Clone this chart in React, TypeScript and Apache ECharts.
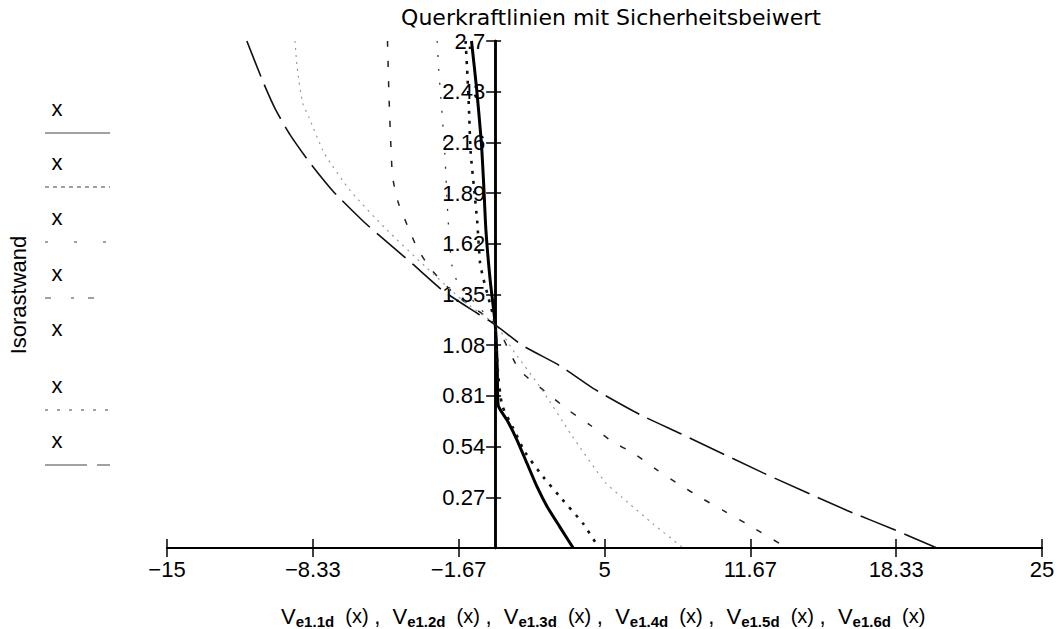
import React, { useEffect, useRef } from 'react';
import * as echarts from 'echarts';

const chartTitle = 'Querkraftlinien mit Sicherheitsbeiwert';
const yAxisTitle = 'Isorastwand';
const xTickLabels = ['\u221215', '\u22128.33', '\u22121.67', '5', '11.67', '18.33', '25'];
const yTickLabels = ['0.27', '0.54', '0.81', '1.08', '1.35', '1.62', '1.89', '2.16', '2.43', '2.7'];
const funcSubs = ['e1.1d', 'e1.2d', 'e1.3d', 'e1.4d', 'e1.5d', 'e1.6d'];
const legendLabels = ['x', 'x', 'x', 'x', 'x', 'x', 'x'];

// [V, x] pairs
const curveSolid: [number, number][] = [
  [-1.08, 2.7], [-0.85, 2.45], [-0.63, 2.16], [-0.52, 1.93], [-0.42, 1.69], [-0.23, 1.43],
  [-0.05, 1.25], [0.03, 1.15], [0.1, 0.95], [0.14, 0.76], [0.55, 0.68], [1.0, 0.575],
  [1.46, 0.45], [1.92, 0.325], [2.38, 0.22], [2.97, 0.11], [3.57, 0.0],
];
const curveSquareDots: [number, number][] = [
  [-1.35, 2.7], [-1.28, 2.55], [-1.2, 2.35], [-1.12, 2.11], [-0.95, 1.9], [-0.82, 1.74],
  [-0.69, 1.52], [-0.55, 1.44], [-0.3, 1.33], [0, 1.19], [0.12, 0.95], [0.32, 0.76],
  [0.82, 0.64], [1.37, 0.51], [2.19, 0.38], [3.06, 0.26], [4.02, 0.13], [4.75, 0.0],
];
const curveSmallDots: [number, number][] = [
  [-2.65, 2.7], [-2.58, 2.55], [-2.45, 2.35], [-2.3, 2.1], [-2.15, 1.75], [-1.97, 1.5],
  [-1.69, 1.41], [-0.8, 1.29], [0, 1.19],
];
const curveDashed: [number, number][] = [
  [-4.92, 2.7], [-4.85, 2.4], [-4.75, 2.1], [-4.68, 1.97], [-4.43, 1.84], [-4.02, 1.72],
  [-3.57, 1.6], [-2.97, 1.49], [-1.83, 1.35], [0, 1.19], [1.1, 0.95], [2.38, 0.825],
  [3.34, 0.735], [4.34, 0.655], [5.39, 0.564], [6.31, 0.506], [7.41, 0.415], [8.46, 0.335],
  [9.37, 0.27], [10.42, 0.2], [11.43, 0.133], [13.35, 0.0],
];
const curveFaintDots: [number, number][] = [
  [-9.15, 2.7], [-9.05, 2.56], [-8.8, 2.37], [-8.5, 2.29], [-7.8, 2.1], [-6.6, 1.9],
  [-5.0, 1.7], [-3.2, 1.5], [-1.5, 1.32], [0, 1.19], [0.9, 1.04], [2.1, 0.85], [3.5, 0.6],
  [5.03, 0.35], [5.8, 0.27], [7.2, 0.13], [8.6, 0.0],
];
const curveLongDash: [number, number][] = [
  [-11.35, 2.7], [-10.6, 2.48], [-10.06, 2.34], [-9.37, 2.2], [-8.46, 2.05], [-7.41, 1.9],
  [-6.03, 1.74], [-5.35, 1.67], [-3.75, 1.51], [-2.38, 1.37], [-0.82, 1.25], [0, 1.19],
  [1.23, 1.08], [2.97, 0.97], [4.48, 0.85], [6.63, 0.71], [8.46, 0.61], [12.25, 0.4],
  [16.09, 0.2], [18.2, 0.1], [20.2, 0.0],
];

const FONT = "'Liberation Sans', Arial, sans-serif";
const GRID_LEFT = 167;
const GRID_RIGHT_EDGE = 1042;
const X_MIN = -15;
const X_MAX = 25;

export default function App() {
  const ref = useRef<HTMLDivElement>(null);
  useEffect(() => {
    if (!ref.current) return;
    const chart = echarts.init(ref.current, null, { renderer: 'svg' });
    const xStep = (X_MAX - X_MIN) / 6;
    const xFmt = (v: number) => xTickLabels[Math.round((v - X_MIN) / xStep)] ?? '';
    const yFmt = (v: number) => {
      const i = Math.round(v / 0.27);
      return i === 0 ? '' : yTickLabels[i - 1] ?? '';
    };
    // place the vertical axis at V = 0
    const zeroPx = GRID_LEFT + ((0 - X_MIN) / (X_MAX - X_MIN)) * (GRID_RIGHT_EDGE - GRID_LEFT);
    const yOffset = GRID_LEFT - zeroPx;
    const mk = (name: string, data: [number, number][], width: number, type: any, color = '#000') => ({
      name,
      type: 'line',
      data,
      showSymbol: false,
      smooth: 0.2,
      xAxisIndex: 0,
      yAxisIndex: 0,
      lineStyle: { color, width, type },
      z: 3,
    });
    const xName = funcSubs
      .map((s) => `{v|V}{s|${s}}{p|  (x) }`)
      .join('{c|,  }');
    const legendY = [108, 162, 217, 273, 328, 385, 440];
    const legendDash: (number[] | null | 'solid')[] = [
      'solid', [4, 4], [3, 26], [6, 20, 3, 14], null, [3, 9], [42, 10],
    ];
    const legendEls: any[] = [];
    legendLabels.forEach((t, i) => {
      legendEls.push({
        type: 'text', x: 57, y: legendY[i],
        style: { text: t, font: `22px ${FONT}`, fill: '#000', align: 'center', verticalAlign: 'middle', textAlign: 'center', textVerticalAlign: 'middle' },
      });
      const d = legendDash[i];
      if (d) {
        legendEls.push({
          type: 'line', shape: { x1: 45, y1: legendY[i] + 25, x2: 110, y2: legendY[i] + 25 },
          style: { stroke: '#444', lineWidth: 1.2, lineDash: d === 'solid' ? null : d },
        });
      }
    });
    const yBase = {
      type: 'value', min: 0, max: 2.7, interval: 0.27, position: 'left', offset: yOffset,
      splitLine: { show: false },
    };
    const xBase = {
      type: 'value', min: X_MIN, max: X_MAX, interval: xStep, position: 'bottom',
      splitLine: { show: false },
    };
    const option: any = {
      animation: false,
      backgroundColor: '#fff',
      grid: { left: GRID_LEFT, right: 1058 - GRID_RIGHT_EDGE, top: 41, bottom: 81, containLabel: false },
      xAxis: [
        {
          ...xBase,
          axisLine: { onZero: false, lineStyle: { color: '#000', width: 2 } },
          axisTick: { show: true, length: 9, lineStyle: { color: '#000', width: 1.5 } },
          axisLabel: { formatter: xFmt, color: '#000', fontSize: 22, fontFamily: FONT, margin: 10 },
        },
        {
          ...xBase,
          axisLine: { onZero: false, lineStyle: { color: '#000', width: 2 } },
          axisTick: { show: true, inside: true, length: 9, lineStyle: { color: '#000', width: 1.5 } },
          axisLabel: { show: false },
        },
      ],
      yAxis: [
        {
          ...yBase,
          axisLine: { onZero: false, lineStyle: { color: '#000', width: 2.5 } },
          axisTick: { show: true, length: 9, lineStyle: { color: '#000', width: 1.5 } },
          axisLabel: { formatter: yFmt, color: '#000', fontSize: 22, fontFamily: FONT, margin: 10, lineHeight: 20 },
        },
        {
          ...yBase,
          axisLine: { onZero: false, lineStyle: { color: '#000', width: 2.5 } },
          axisTick: { show: true, inside: true, length: 6, lineStyle: { color: '#000', width: 1.5 } },
          axisLabel: { show: false },
        },
      ],
      series: [
        mk('Ve1.1d', curveSolid, 3, 'solid'),
        mk('Ve1.2d', curveSquareDots, 2.6, [3, 7], '#111'),
        mk('Ve1.3d', curveSmallDots, 1.3, [2, 12], '#333'),
        mk('Ve1.4d', curveDashed, 1.5, [6, 14], '#222'),
        mk('Ve1.5d', curveFaintDots, 1.2, [2, 5], '#999'),
        mk('Ve1.6d', curveLongDash, 1.6, [38, 9], '#111'),
      ],
      graphic: [
        {
          type: 'text', x: 611, y: 17,
          style: { text: chartTitle, font: `22px 'DejaVu Sans', sans-serif`, fill: '#000', align: 'center', verticalAlign: 'middle', textAlign: 'center', textVerticalAlign: 'middle', lineHeight: 20 },
        },
        {
          type: 'text', x: 18, y: 295, rotation: Math.PI / 2,
          style: { text: yAxisTitle, font: `22px ${FONT}`, fill: '#000', align: 'center', verticalAlign: 'middle', textAlign: 'center', textVerticalAlign: 'middle' },
        },
        {
          type: 'text', x: 606, y: 616,
          style: {
            text: xName, fill: '#000', align: 'center', verticalAlign: 'middle', textAlign: 'center', textVerticalAlign: 'middle',
            font: `22px ${FONT}`,
            rich: {
              v: { fontSize: 22, fontFamily: FONT, fill: '#000' },
              s: { fontSize: 15, fontFamily: FONT, fontWeight: 'bold', fill: '#000', padding: [10, 0, 0, 0] },
              p: { fontSize: 20, fontFamily: FONT, fill: '#000' },
              c: { fontSize: 22, fontFamily: FONT, fill: '#000' },
            },
          },
        },
        ...legendEls,
      ],
    };
    chart.setOption(option);
    return () => chart.dispose();
  }, []);
  return <div ref={ref} style={{ position: 'fixed', left: 0, top: 0, width: 1058, height: 629, background: '#fff' }} />;
}
